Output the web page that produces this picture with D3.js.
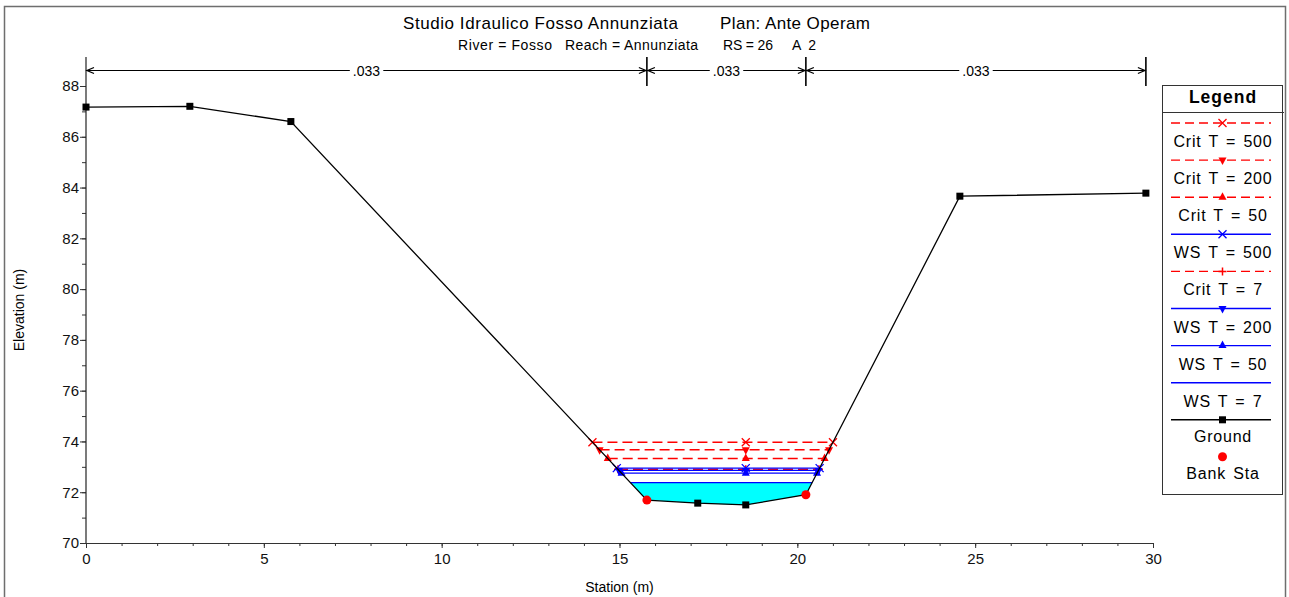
<!DOCTYPE html>
<html>
<head>
<meta charset="utf-8">
<script src="https://cdn.jsdelivr.net/npm/d3@7"></script>
<style>
  html, body { margin: 0; padding: 0; background: #fff; }
  svg { display: block; font-family: "Liberation Sans", Arial, sans-serif; }
</style>
</head>
<body>
<svg id="chart" width="1289" height="597"></svg>
<script>
// ---------------- DATA ----------------
const titleMain = "Studio Idraulico Fosso Annunziata";
const titlePlan = "Plan: Ante Operam";
const subRiver = "River = Fosso";
const subReach = "Reach = Annunziata";
const subRS = "RS = 26";
const subA = "A 2";
const xLabel = "Station (m)";
const yLabel = "Elevation (m)";

const groundSta  = [0, 2.92, 5.76, 15.77, 17.2, 18.55, 20.24, 24.57, 29.8];
const groundElev = [87.17, 87.2, 86.6, 71.69, 71.57, 71.5, 71.9, 83.66, 83.78];
const bankStations = [15.77, 20.24];
const nBreaks = [0, 15.77, 20.24, 29.8];
const nValues = [".033", ".033", ".033"];

const profileNames = ["Crit T = 500", "Crit T = 200", "Crit T = 50", "WS T = 500", "Crit T = 7", "WS T = 200", "WS T = 50", "WS T = 7"];
const profileElev  = [73.97, 73.67, 73.33, 72.95, 72.90, 72.86, 72.75, 72.38];
const profileKind  = ["crit", "crit", "crit", "ws", "crit", "ws", "ws", "ws"];
const profileMark  = ["x", "down", "up", "x", "plus", "down", "up", "none"];

const xTicks = [0, 5, 10, 15, 20, 25, 30];
const yTicks = [70, 72, 74, 76, 78, 80, 82, 84, 86, 88];

// ---------------- LAYOUT ----------------
const svg = d3.select("#chart");
const X0 = 86, X1 = 1153, Y0 = 543, Y1 = 86;
const x = d3.scaleLinear().domain([0, 30]).range([X0, X1]);
const y = d3.scaleLinear().domain([70, 88]).range([Y0, Y1]);
const RED = "#ff0000", BLUE = "#0000ff";

// outer frame
svg.append("rect").attr("x", 4.5).attr("y", 6.5).attr("width", 1281).attr("height", 600)
  .attr("fill", "none").attr("stroke", "#6e6e6e").attr("stroke-width", 1.5);

// titles
function fitText(t, px, py, size, len) {
  return svg.append("text").attr("x", px).attr("y", py).attr("font-size", size)
    .attr("textLength", len).attr("lengthAdjust", "spacing").text(t);
}
fitText(titleMain, 403, 29, 17, 275);
fitText(titlePlan, 720, 29, 17, 150);
fitText(subRiver, 458, 50, 14, 94);
fitText(subReach, 565, 50, 14, 133);
fitText(subRS, 723, 50, 14, 50);
fitText(subA, 792, 50, 14, 24);

// ---------------- AXES ----------------
const gx = svg.append("g").attr("transform", `translate(0,${Y0})`)
  .call(d3.axisBottom(x).tickValues(xTicks).tickSize(5).tickSizeOuter(0).tickFormat(d3.format("d")));
gx.select(".domain").attr("stroke", "#333");
gx.selectAll("text").attr("font-size", 15).attr("font-family", "Liberation Sans, Arial, sans-serif").attr("dy", "0.85em").attr("fill", "#111");
gx.selectAll(".tick line").attr("stroke", "#333");
const gxm = svg.append("g").attr("transform", `translate(0,${Y0})`)
  .call(d3.axisBottom(x).ticks(30).tickSize(3).tickFormat(""));
gxm.select(".domain").remove();
gxm.selectAll(".tick line").attr("stroke", "#333");

const gy = svg.append("g").attr("transform", `translate(${X0},0)`)
  .call(d3.axisLeft(y).tickValues(yTicks).tickSize(6).tickSizeOuter(0).tickFormat(d3.format("d")));
gy.select(".domain").remove();
gy.selectAll("text").attr("font-size", 15).attr("font-family", "Liberation Sans, Arial, sans-serif").attr("x", -7).attr("fill", "#111");
gy.selectAll(".tick line").attr("stroke", "#333");
const gym = svg.append("g").attr("transform", `translate(${X0},0)`)
  .call(d3.axisLeft(y).ticks(18).tickSize(4).tickFormat(""));
gym.select(".domain").remove();
gym.selectAll(".tick line").attr("stroke", "#333");
svg.append("line").attr("x1", X0).attr("x2", X0).attr("y1", Y0).attr("y2", 57).attr("stroke", "#222").attr("stroke-width", 1.2);

svg.append("text").attr("x", x(15)).attr("y", 592).attr("text-anchor", "middle").attr("font-size", 14).text(xLabel);
svg.append("text").attr("transform", `translate(24,310) rotate(-90)`)
  .attr("text-anchor", "middle").attr("font-size", 14).text(yLabel);

// ---------------- n-value dimension line ----------------
const NY = 70.5;
const nl = svg.append("g").attr("stroke", "#000").attr("stroke-width", 1).attr("fill", "none");
nl.append("line").attr("x1", x(nBreaks[0])).attr("x2", x(nBreaks[nBreaks.length - 1])).attr("y1", NY).attr("y2", NY);
nBreaks.slice(1).forEach(s => {
  nl.append("line").attr("x1", x(s)).attr("x2", x(s)).attr("y1", 57).attr("y2", 86).attr("stroke-width", 1.6);
});
function arrow(tipX, dir) { // dir -1 points left, +1 points right
  nl.append("path").attr("d", `M${tipX - dir * 7},${NY - 3}L${tipX},${NY}L${tipX - dir * 7},${NY + 3}`).attr("stroke-width", 1.3);
}
arrow(x(nBreaks[0]) + 1, -1);
nBreaks.slice(1, -1).forEach(s => { arrow(x(s) - 1, 1); arrow(x(s) + 1, -1); });
arrow(x(nBreaks[nBreaks.length - 1]) - 1, 1);
nValues.forEach((v, i) => {
  const cx = (x(nBreaks[i]) + x(nBreaks[i + 1])) / 2;
  const g = svg.append("g");
  const t = g.append("text").attr("x", cx).attr("y", NY + 5).attr("text-anchor", "middle").attr("font-size", 14).text(v);
  const bb = t.node().getBBox();
  g.insert("rect", "text").attr("x", bb.x - 3).attr("y", bb.y).attr("width", bb.width + 6).attr("height", bb.height).attr("fill", "#fff");
});

// ---------------- WATER SURFACES ----------------
const ground = groundSta.map((s, i) => [s, groundElev[i]]);
function crossings(e) {
  const pts = [];
  for (let i = 0; i < ground.length - 1; i++) {
    const [s0, e0] = ground[i], [s1, e1] = ground[i + 1];
    if ((e0 - e) * (e1 - e) <= 0 && e0 !== e1) {
      pts.push(s0 + (e - e0) / (e1 - e0) * (s1 - s0));
    }
  }
  return [d3.min(pts), d3.max(pts)];
}
const thalweg = groundSta[d3.minIndex(groundElev)];

// fill under lowest WS
const wsLow = d3.min(profileElev.filter((e, i) => profileKind[i] === "ws"));
const [fl, fr] = crossings(wsLow);
const poly = [[fl, wsLow]].concat(ground.filter(p => p[0] > fl && p[0] < fr)).concat([[fr, wsLow]]);
svg.append("path").attr("d", d3.line().x(p => x(p[0])).y(p => y(p[1]))(poly) + "Z").attr("fill", "#00ffff");

function marker(g, type, px, py, color) {
  const s = 4;
  if (type === "x") g.append("path").attr("d", `M${px - s},${py - s}L${px + s},${py + s}M${px - s},${py + s}L${px + s},${py - s}`).attr("stroke", color).attr("stroke-width", 1.3).attr("fill", "none");
  else if (type === "plus") g.append("path").attr("d", `M${px - s},${py}L${px + s},${py}M${px},${py - s}L${px},${py + s}`).attr("stroke", color).attr("stroke-width", 1.5).attr("fill", "none");
  else if (type === "up") g.append("path").attr("d", `M${px},${py - 5}L${px + 4},${py + 2.5}L${px - 4},${py + 2.5}Z`).attr("fill", color);
  else if (type === "down") g.append("path").attr("d", `M${px},${py + 5}L${px + 4},${py - 2.5}L${px - 4},${py - 2.5}Z`).attr("fill", color);
  else if (type === "square") g.append("rect").attr("x", px - 3.5).attr("y", py - 3.5).attr("width", 7).attr("height", 7).attr("fill", color);
  else if (type === "circle") g.append("circle").attr("cx", px).attr("cy", py).attr("r", 4.5).attr("fill", color);
}

const wg = svg.append("g");
// draw crit first (below), then ws
const order = d3.range(profileElev.length).sort((a, b) => (profileKind[a] === "crit" ? 0 : 1) - (profileKind[b] === "crit" ? 0 : 1));
order.forEach(i => {
  const e = profileElev[i];
  const [l, r] = crossings(e);
  const isCrit = profileKind[i] === "crit";
  const col = isCrit ? RED : BLUE;
  wg.append("line").attr("x1", x(l)).attr("x2", x(r)).attr("y1", y(e)).attr("y2", y(e))
    .attr("stroke", col).attr("stroke-width", isCrit ? 1.5 : 1.2)
    .attr("stroke-dasharray", isCrit ? "10,5" : null);
  if (profileMark[i] !== "none") {
    [l, thalweg, r].forEach(s => marker(wg, profileMark[i], x(s), y(e), col));
  }
});

// ground
svg.append("path").attr("d", d3.line().x(p => x(p[0])).y(p => y(p[1]))(ground))
  .attr("fill", "none").attr("stroke", "#000").attr("stroke-width", 1.3);
ground.forEach((p, i) => {
  if (!bankStations.includes(p[0])) marker(svg, "square", x(p[0]), y(p[1]), "#000");
});
bankStations.forEach(s => {
  const i = groundSta.indexOf(s);
  marker(svg, "circle", x(s), y(groundElev[i]), RED);
});

// ---------------- LEGEND ----------------
const LX = 1162, LW = 120, LT = 85, LB = 494;
const lg = svg.append("g");
lg.append("rect").attr("x", LX + 0.5).attr("y", LT + 0.5).attr("width", LW).attr("height", LB - LT).attr("fill", "#fff").attr("stroke", "#333").attr("stroke-width", 1);
lg.append("line").attr("x1", LX).attr("x2", LX + LW + 2).attr("y1", 112.5).attr("y2", 112.5).attr("stroke", "#333");
lg.append("text").attr("x", LX + LW / 2 + 1).attr("y", 103).attr("text-anchor", "middle").attr("font-size", 17.5)
  .attr("letter-spacing", 1).attr("font-weight", "bold").text("Legend");
const lcx = LX + LW / 2 + 0.5;
const rowH = 37.1;
function legText(t, ly) {
  lg.append("text").attr("x", lcx + 0.5).attr("y", ly).attr("text-anchor", "middle").attr("font-size", 16)
    .attr("letter-spacing", 0.8).attr("word-spacing", 2).text(t);
}
profileNames.forEach((nm, i) => {
  const ly = 123 + i * rowH;
  const col = profileKind[i] === "crit" ? RED : BLUE;
  lg.append("line").attr("x1", 1171).attr("x2", 1271).attr("y1", ly).attr("y2", ly)
    .attr("stroke", col).attr("stroke-width", 1.4).attr("stroke-dasharray", profileKind[i] === "crit" ? "9,5" : null);
  if (profileMark[i] !== "none") marker(lg, profileMark[i], lcx, ly, col);
  legText(nm, ly + 24);
});
const gyL = 123 + 8 * rowH;
lg.append("line").attr("x1", 1171).attr("x2", 1271).attr("y1", gyL).attr("y2", gyL).attr("stroke", "#000").attr("stroke-width", 1.4);
marker(lg, "square", lcx, gyL, "#000");
legText("Ground", gyL + 22);
marker(lg, "circle", lcx, gyL + 37, RED);
legText("Bank Sta", gyL + 59);
</script>
</body>
</html>
